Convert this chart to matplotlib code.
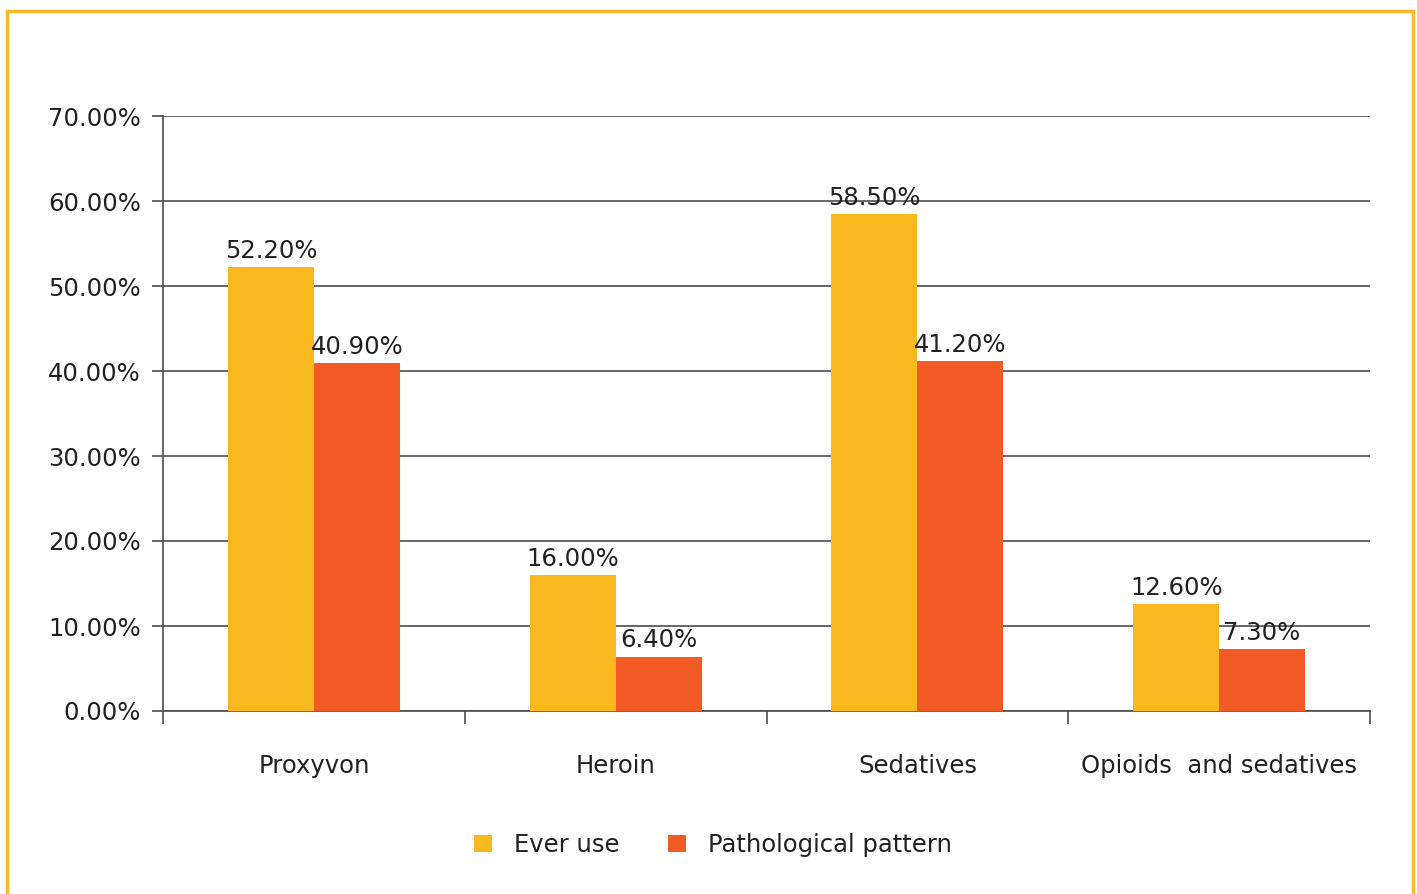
import matplotlib
matplotlib.use("Agg")
import matplotlib.pyplot as plt
import numpy as np
from matplotlib.patches import Rectangle

categories = ["Proxyvon", "Heroin", "Sedatives", "Opioids  and sedatives"]
ever_use = [52.2, 16.0, 58.5, 12.6]
pathological = [40.9, 6.4, 41.2, 7.3]
series_names = ["Ever use", "Pathological pattern"]
colors = ["#F9B81E", "#F15A24"]
yticks = [0, 10, 20, 30, 40, 50, 60, 70]

FS = 17.5
plt.rcParams['font.family'] = ['DejaVu Sans']
fig = plt.figure(figsize=(14.17, 8.94), dpi=100)
ax = fig.add_axes([163/1417, 1-711/894, (1370-163)/1417, (711-116)/894])

x = np.arange(len(categories))
w = 0.285
b1 = ax.bar(x - w/2, ever_use, w, color=colors[0], label=series_names[0], zorder=3)
b2 = ax.bar(x + w/2, pathological, w, color=colors[1], label=series_names[1], zorder=3)

for bars, vals in ((b1, ever_use), (b2, pathological)):
    for r, v in zip(bars, vals):
        ax.annotate(f"{v:.2f}%", (r.get_x() + r.get_width()/2, v),
                    xytext=(0, 3), textcoords="offset points",
                    ha="center", va="bottom", fontsize=FS, color="#231F20", zorder=4)

ax.set_ylim(0, 70)
ax.set_xlim(-0.5, len(categories) - 0.5)
ax.set_yticks(yticks)
ax.set_yticklabels([f"{t:.2f}%" for t in yticks])
ax.yaxis.grid(True, color="#4D4D4D", linewidth=1.2, zorder=0)
ax.set_axisbelow(True)

ax.set_xticks(np.arange(-0.5, len(categories), 1.0))
ax.set_xticklabels([])
ax.set_xticks(x, minor=True)
ax.set_xticklabels(categories, minor=True)
ax.tick_params(axis='x', which='major', length=9, width=1.2, color="#4D4D4D", direction='out')
ax.tick_params(axis='x', which='minor', length=0, pad=31, labelsize=FS, labelcolor="#231F20")
ax.tick_params(axis='y', length=8, width=1.2, color="#4D4D4D", pad=8, labelsize=FS, labelcolor="#231F20")

for s in ("top", "right"):
    ax.spines[s].set_visible(False)
for s in ("left", "bottom"):
    ax.spines[s].set_color("#4D4D4D")
    ax.spines[s].set_linewidth(1.2)

leg = fig.legend(loc="center", bbox_to_anchor=(713/1417, 1-845/894), ncol=2, frameon=False,
                 fontsize=FS, handlelength=0.75, handleheight=0.75, handletextpad=0.9,
                 columnspacing=2.0)
for t in leg.get_texts():
    t.set_color("#231F20")

fig.patches.append(Rectangle((7/1417, -0.05), (1413-7)/1417, 1.05 - 11/894,
                             transform=fig.transFigure, fill=False,
                             edgecolor="#FBB829", linewidth=2.5, zorder=10))

fig.savefig("out.png", dpi=100)
